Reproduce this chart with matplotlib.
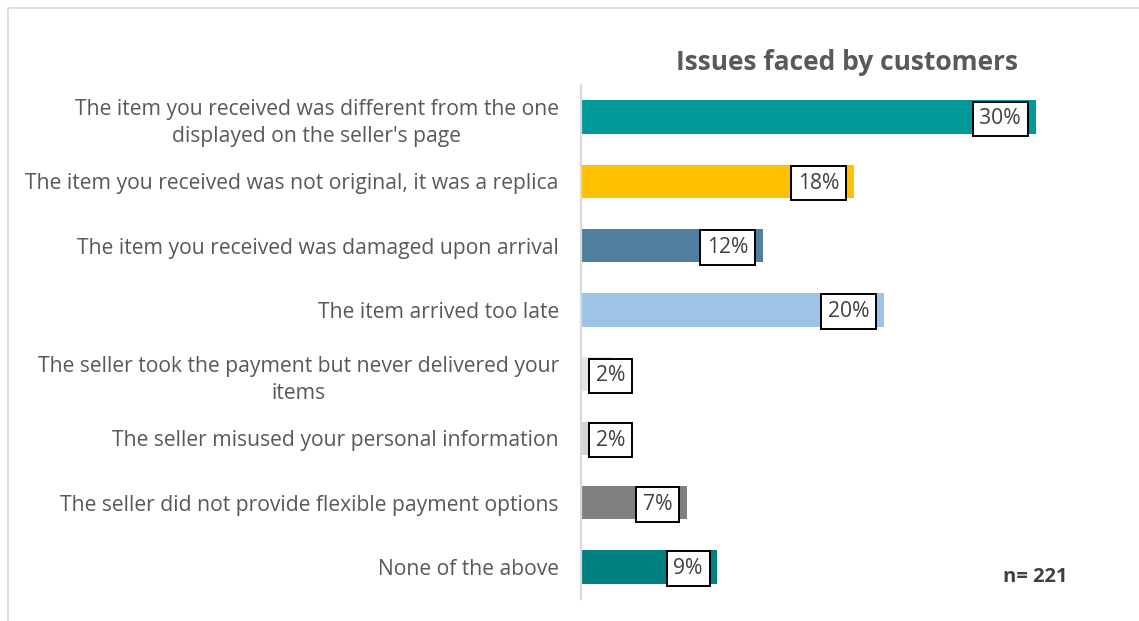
import numpy as np
import matplotlib
matplotlib.use("Agg")
import matplotlib.pyplot as plt
from matplotlib.patches import Rectangle

# Survey responses
categories = [
    "The item you received was different from the one\ndisplayed on the seller's page",
    "The item you received was not original, it was a replica",
    "The item you received was damaged upon arrival",
    "The item arrived too late",
    "The seller took the payment but never delivered your\nitems",
    "The seller misused your personal information",
    "The seller did not provide flexible payment options",
    "None of the above",
]
values = [30, 18, 12, 20, 2, 2, 7, 9]
bar_colors = ["#009999", "#FFC000", "#507F9F", "#9DC3E6",
              "#E6E6E6", "#D4D4D4", "#808080", "#008080"]
title = "Issues faced by customers"
sample_note = "n= 221"

plt.rcParams["font.family"] = ["Open Sans", "DejaVu Sans"]
text_color = "#595959"
label_size = 15.2

W, H = 1139, 621
fig = plt.figure(figsize=(W / 100, H / 100), dpi=100)

# light frame around the chart area
fig.patches.append(Rectangle((8 / W, -0.05), 1.2, 1 - 8 / H + 0.05,
                             transform=fig.transFigure, fill=False,
                             edgecolor="#D9D9D9", linewidth=1.2))

ax = fig.add_axes([581 / W, 1 - 599 / H, (1066 - 581) / W, (599 - 85) / H])
y = np.arange(len(categories))
ax.barh(y, values, height=0.52, color=bar_colors, zorder=2)
ax.set_xlim(0, 32)
ax.set_ylim(len(categories) - 0.5, -0.5)

for side in ("top", "right", "bottom"):
    ax.spines[side].set_visible(False)
ax.spines["left"].set_color("#D9D9D9")
ax.spines["left"].set_linewidth(1.6)
ax.set_xticks([])
ax.set_yticks(y)
ax.set_yticklabels(categories, fontsize=label_size, color=text_color, linespacing=1.42)
ax.tick_params(axis="y", length=0, pad=16)
for t in ax.get_yticklabels():
    t.set_multialignment("center")

# boxed value labels at the inside end of each bar
px_per_unit = ((1066 - 581) / 32.0)
box_kw = dict(boxstyle="square,pad=0.32", facecolor="white",
              edgecolor="black", linewidth=1.4)
for yi, v in zip(y, values):
    label = f"{v}%"
    if v * px_per_unit > 80:
        ax.annotate(label, xy=(v, yi), xytext=(-10.5, -1.2), textcoords="offset points",
                    ha="right", va="center", fontsize=label_size, color="#404040",
                    bbox=box_kw, zorder=3)
    else:
        ax.annotate(label, xy=(0, yi), xytext=(10.5, -1.2), textcoords="offset points",
                    ha="left", va="center", fontsize=label_size, color="#404040",
                    bbox=box_kw, zorder=3)

fig.text(847 / W, 1 - 62 / H, title, ha="center", va="center",
         fontsize=19, fontweight="bold", color=text_color)
fig.text(1035 / W, 1 - 577 / H, sample_note, ha="center", va="center",
         fontsize=14.5, fontweight="bold", color="#404040")

fig.savefig("out.png", dpi=100, facecolor="white")
